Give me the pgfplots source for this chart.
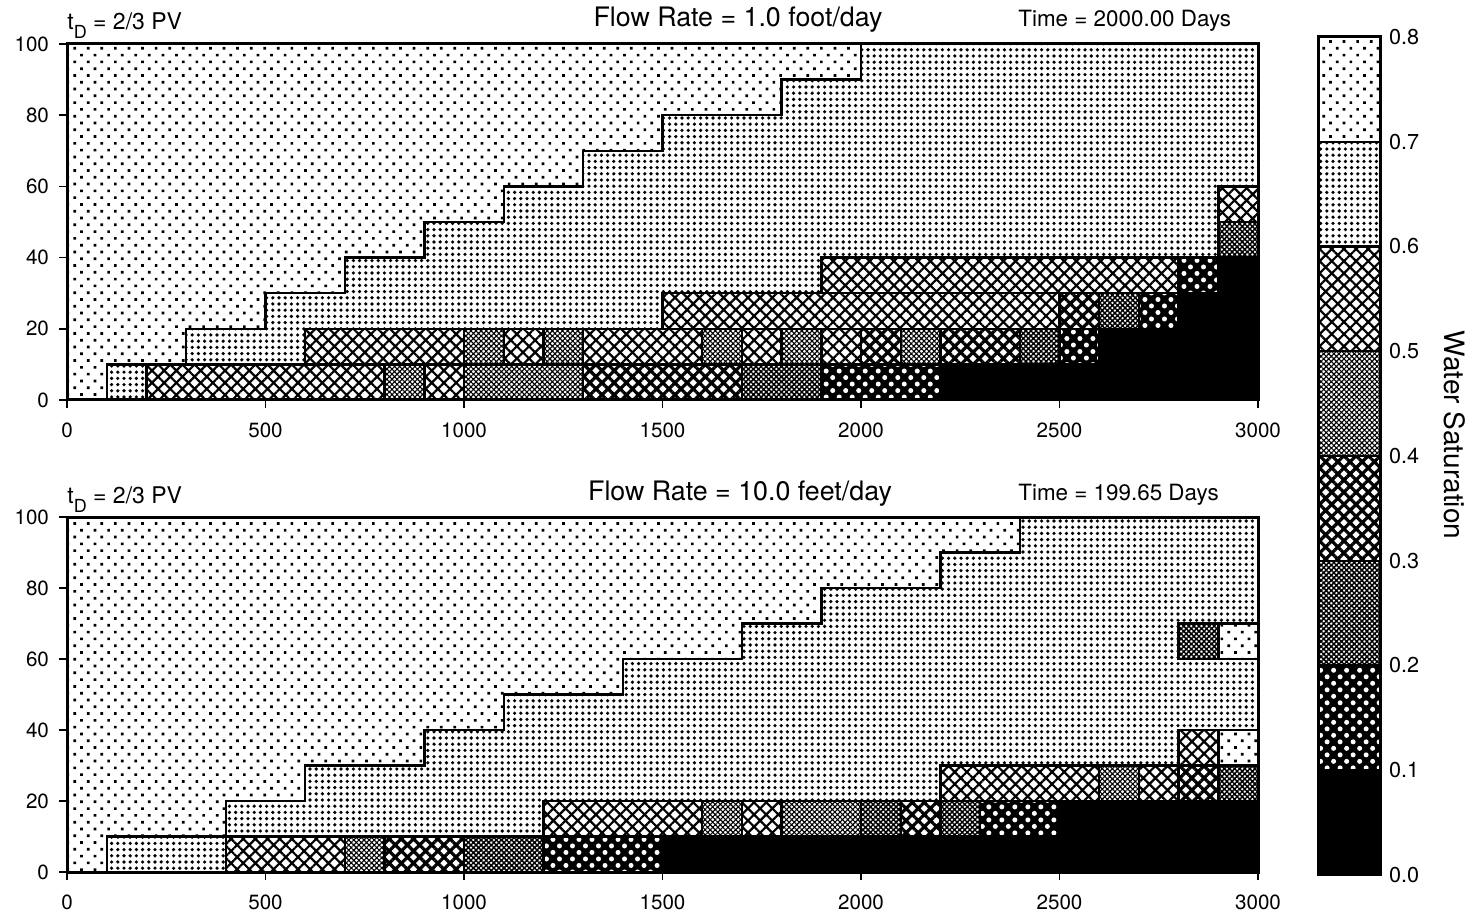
\documentclass[border=0pt]{standalone}
\usepackage{fontspec}
\setmainfont{TeX Gyre Heros}
\usepackage{pgfplots}
\pgfplotsset{compat=1.18}
\usetikzlibrary{patterns.meta}

\tikzset{
 lev7/.style={preaction={fill=white}, pattern={Dots[distance=4.8pt, radius=0.95pt, angle=45]}, pattern color=black},
 lev6/.style={preaction={fill=white}, pattern={Dots[distance=3.1pt, radius=0.9pt]}, pattern color=black},
 lev5/.style={preaction={fill=white}, pattern={Hatch[distance=4.3pt, angle=45, line width=1.1pt]}, pattern color=black},
 lev4/.style={preaction={fill=white}, pattern={Hatch[distance=1.8pt, angle=45, line width=0.55pt]}, pattern color=black},
 lev3/.style={preaction={fill=white}, pattern={Hatch[distance=4.3pt, angle=45, line width=1.6pt]}, pattern color=black},
 lev2/.style={preaction={fill=white}, pattern={Hatch[distance=1.8pt, angle=45, line width=0.75pt]}, pattern color=black},
 lev1/.style={preaction={fill=black}, pattern={Dots[distance=4.6pt, radius=1.25pt, angle=45]}, pattern color=white},
 lev0/.style={fill=black},
 cellb/.style={draw=black, line width=1.2pt, line join=miter},
}
% cell: x0 x1 y0 y1 level
\newcommand\C[5]{\addplot[mark=none,cellb,lev#5] coordinates {(#1,#3) (#2,#3) (#2,#4) (#1,#4)} --cycle;}

\pgfplotsset{
 panel/.style={scale only axis, width=595.5pt, xmin=0, xmax=3000, ymin=0, ymax=100,
  xtick={0,500,1000,1500,2000,2500,3000}, ytick={0,20,40,60,80,100},
  tick pos=left, tick align=outside, major tick length=4pt,
  axis line style={line width=1.5pt}, tick style={line width=0.8pt, black},
  axis on top,
  ticklabel style={font=\fontsize{10.3}{12}\selectfont},
  xticklabel style={yshift=-4pt}, yticklabel style={xshift=-1.5pt},
  /pgf/number format/assume math mode=true, /pgf/number format/1000 sep={}},
}

\begin{document}
\begin{tikzpicture}
\useasboundingbox (0,0) rectangle (737.5pt,-462pt);
% ---------------- top panel ----------------
\begin{axis}[panel, at={(33.5pt,-22pt)}, anchor=north west, height=178pt]
\addplot[mark=none, lev6] coordinates {(0,0) (3000,0) (3000,100) (0,100)} --cycle;
\addplot[mark=none, cellb, lev7] coordinates {(0,0) (100,0) (100,10) (300,10) (300,20) (500,20) (500,30) (700,30) (700,40) (900,40) (900,50) (1100,50) (1100,60) (1300,60) (1300,70) (1500,70) (1500,80) (1800,80) (1800,90) (2000,90) (2000,100) (0,100)} --cycle;
\addplot[mark=none, cellb, lev0] coordinates {(2200,0) (3000,0) (3000,40) (2900,40) (2900,30) (2800,30) (2800,20) (2600,20) (2600,10) (2200,10)} --cycle;
% row 0
\C{100}{200}{0}{10}{6}
\C{200}{800}{0}{10}{5}
\C{800}{900}{0}{10}{4}
\C{900}{1000}{0}{10}{5}
\C{1000}{1300}{0}{10}{4}
\C{1300}{1700}{0}{10}{3}
\C{1700}{1900}{0}{10}{2}
\C{1900}{2200}{0}{10}{1}
% row 1
\C{600}{1000}{10}{20}{5}
\C{1000}{1100}{10}{20}{4}
\C{1100}{1200}{10}{20}{5}
\C{1200}{1300}{10}{20}{4}
\C{1300}{1600}{10}{20}{5}
\C{1600}{1700}{10}{20}{4}
\C{1700}{1800}{10}{20}{5}
\C{1800}{1900}{10}{20}{4}
\C{1900}{2000}{10}{20}{5}
\C{2000}{2100}{10}{20}{3}
\C{2100}{2200}{10}{20}{4}
\C{2200}{2400}{10}{20}{3}
\C{2400}{2500}{10}{20}{2}
\C{2500}{2600}{10}{20}{1}
% row 2
\C{1500}{2500}{20}{30}{5}
\C{2500}{2600}{20}{30}{3}
\C{2600}{2700}{20}{30}{2}
\C{2700}{2800}{20}{30}{1}
% row 3
\C{1900}{2800}{30}{40}{5}
\C{2800}{2900}{30}{40}{1}
% rows 4-5
\C{2900}{3000}{40}{50}{2}
\C{2900}{3000}{50}{60}{5}
\end{axis}
% ---------------- bottom panel ----------------
\begin{axis}[panel, at={(33.5pt,-258.5pt)}, anchor=north west, height=177.5pt]
\addplot[mark=none, lev6] coordinates {(0,0) (3000,0) (3000,100) (0,100)} --cycle;
\addplot[mark=none, cellb, lev7] coordinates {(0,0) (100,0) (100,10) (400,10) (400,20) (600,20) (600,30) (900,30) (900,40) (1100,40) (1100,50) (1400,50) (1400,60) (1700,60) (1700,70) (1900,70) (1900,80) (2200,80) (2200,90) (2400,90) (2400,100) (0,100)} --cycle;
\addplot[mark=none, cellb, lev0] coordinates {(1500,0) (3000,0) (3000,20) (2500,20) (2500,10) (1500,10)} --cycle;
% row 0
\C{100}{400}{0}{10}{6}
\C{400}{700}{0}{10}{5}
\C{700}{800}{0}{10}{4}
\C{800}{1000}{0}{10}{3}
\C{1000}{1200}{0}{10}{2}
\C{1200}{1500}{0}{10}{1}
% row 1
\C{1200}{1600}{10}{20}{5}
\C{1600}{1700}{10}{20}{4}
\C{1700}{1800}{10}{20}{5}
\C{1800}{2000}{10}{20}{4}
\C{2000}{2100}{10}{20}{2}
\C{2100}{2200}{10}{20}{3}
\C{2200}{2300}{10}{20}{2}
\C{2300}{2500}{10}{20}{1}
% row 2
\C{2200}{2600}{20}{30}{5}
\C{2600}{2700}{20}{30}{4}
\C{2700}{2800}{20}{30}{5}
\C{2800}{2900}{20}{30}{3}
\C{2900}{3000}{20}{30}{2}
% row 3
\C{2800}{2900}{30}{40}{5}
\C{2900}{3000}{30}{40}{7}
% row 6
\C{2800}{2900}{60}{70}{2}
\C{2900}{3000}{60}{70}{7}
\end{axis}
% ---------------- colour bar ----------------
\begin{axis}[scale only axis, at={(659pt,-18.5pt)}, anchor=north west, width=31pt, height=419pt,
  xmin=0, xmax=1, ymin=0, ymax=0.8, xtick=\empty,
  ytick={0,0.1,0.2,0.3,0.4,0.5,0.6,0.7,0.8}, yticklabel pos=right, major tick length=0pt,
  axis on top, axis line style={line width=1.5pt},
  yticklabel style={font=\fontsize{10.8}{12}\selectfont, xshift=1pt,
    /pgf/number format/.cd, fixed, fixed zerofill, precision=1, assume math mode=true}]
\C{0}{1}{0}{0.1}{0}
\C{0}{1}{0.1}{0.2}{1}
\C{0}{1}{0.2}{0.3}{2}
\C{0}{1}{0.3}{0.4}{3}
\C{0}{1}{0.4}{0.5}{4}
\C{0}{1}{0.5}{0.6}{5}
\C{0}{1}{0.6}{0.7}{6}
\C{0}{1}{0.7}{0.8}{7}
\end{axis}
\node[rotate=-90, font=\fontsize{14}{16}\selectfont] at (727.5pt,-217.5pt) {Water Saturation};
% ---------------- panel titles ----------------
\node[anchor=base west, inner sep=0, font=\fontsize{11.5}{13}\selectfont] at (33.5pt,-15pt) {t\raisebox{-4.5pt}{\fontsize{9}{10}\selectfont D} = 2/3 PV};
\node[anchor=base, inner sep=0, font=\fontsize{13.4}{15}\selectfont] at (369pt,-13.5pt) {Flow Rate = 1.0 foot/day};
\node[anchor=base west, inner sep=0, font=\fontsize{11.2}{13}\selectfont] at (509pt,-13.5pt) {Time = 2000.00 Days};
\node[anchor=base west, inner sep=0, font=\fontsize{11.5}{13}\selectfont] at (33.5pt,-251.5pt) {t\raisebox{-4.5pt}{\fontsize{9}{10}\selectfont D} = 2/3 PV};
\node[anchor=base, inner sep=0, font=\fontsize{13.4}{15}\selectfont] at (370pt,-250pt) {Flow Rate = 10.0 feet/day};
\node[anchor=base west, inner sep=0, font=\fontsize{11.2}{13}\selectfont] at (509pt,-250pt) {Time = 199.65 Days};
\end{tikzpicture}
\end{document}
